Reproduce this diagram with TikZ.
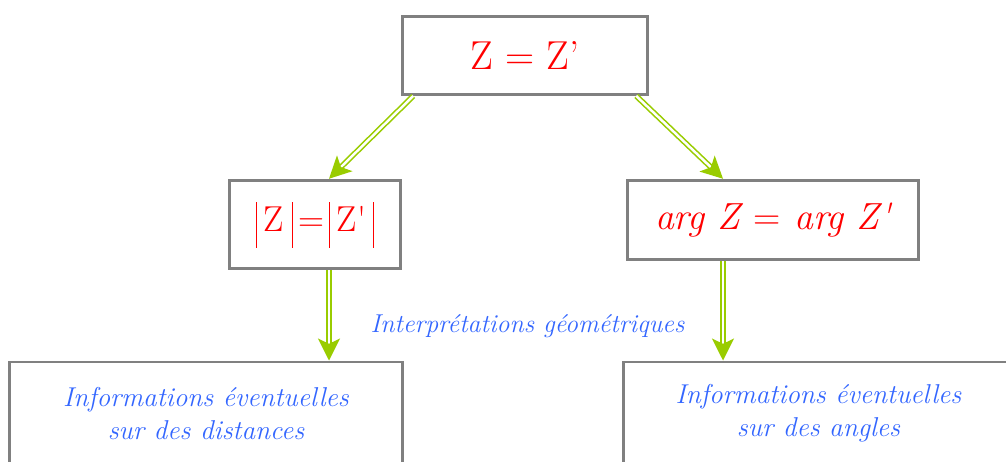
\documentclass[tikz,border=0pt]{standalone}
\usepackage{fontspec}
\usepackage{tikz}
\usetikzlibrary{positioning,arrows.meta}

\definecolor{vert}{HTML}{99CC00}
\definecolor{bleu}{HTML}{3366FF}
\definecolor{cadre}{HTML}{808080}
\newcommand{\absbar}{\textcolor{red}{\vrule height 0.6cm depth 0.32cm width 0.5pt}}

\begin{document}
\begin{tikzpicture}[
    boite/.style={draw=cadre,line width=1.7pt,fill=white,inner sep=0pt,align=center},
    formule/.style={boite,text=red},
    info/.style={boite,text=bleu,font=\fontsize{15.5}{18.8}\selectfont\itshape},
    fleche/.style={draw=vert,double=white,line width=0.9pt,double distance=1.4pt,
        -{Stealth[length=12.5pt,width=12.5pt,inset=3pt,fill=vert]}},
]
\useasboundingbox (0,0) rectangle (20.12,-9.24);
\clip (0,0) rectangle (20.12,-9.24);

% formules
\node[formule,minimum width=4.91cm,minimum height=1.56cm,font=\fontsize{23}{28}\selectfont] (egal) at (10.50,-1.11) {Z = Z’};
\node[formule,minimum width=3.41cm,minimum height=1.77cm,font=\fontsize{20.5}{24}\selectfont] (module) at (6.30,-4.49)
    {\absbar\hspace{0.14cm}Z\hspace{0.16cm}\absbar\hspace{0.1cm}=\hspace{0.1cm}\absbar\hspace{0.14cm}Z\textquotesingle\hspace{0.14cm}\absbar};
\node[formule,minimum width=5.82cm,minimum height=1.59cm,font=\fontsize{21.5}{25}\selectfont\itshape] (argument) at (15.46,-4.40)
    {arg Z {\upshape=} arg Z\textquotesingle};

% interpretations
\node[info,minimum width=7.86cm,minimum height=2.06cm] (distances) at (4.12,-8.27) {Informations éventuelles\\sur des distances};
\node[info,minimum width=7.80cm,minimum height=2.06cm] (angles) at (16.37,-8.27) {Informations éventuelles\\sur des angles};
\node[text=bleu,font=\fontsize{14.7}{18}\selectfont\itshape] (interp) at (10.55,-6.52) {Interprétations géométriques};

\draw[fleche] ([xshift=0.25cm]egal.south west) -- ([xshift=0.28cm]module.north);
\draw[fleche] ([xshift=-0.26cm]egal.south east) -- ([xshift=-1.0cm]argument.north);
\draw[fleche] ([xshift=0.28cm]module.south) -- ([xshift=0.28cm]module.south |- distances.north);
\draw[fleche] ([xshift=-1.0cm]argument.south) -- ([xshift=-1.0cm]argument.south |- angles.north);
\end{tikzpicture}
\end{document}
